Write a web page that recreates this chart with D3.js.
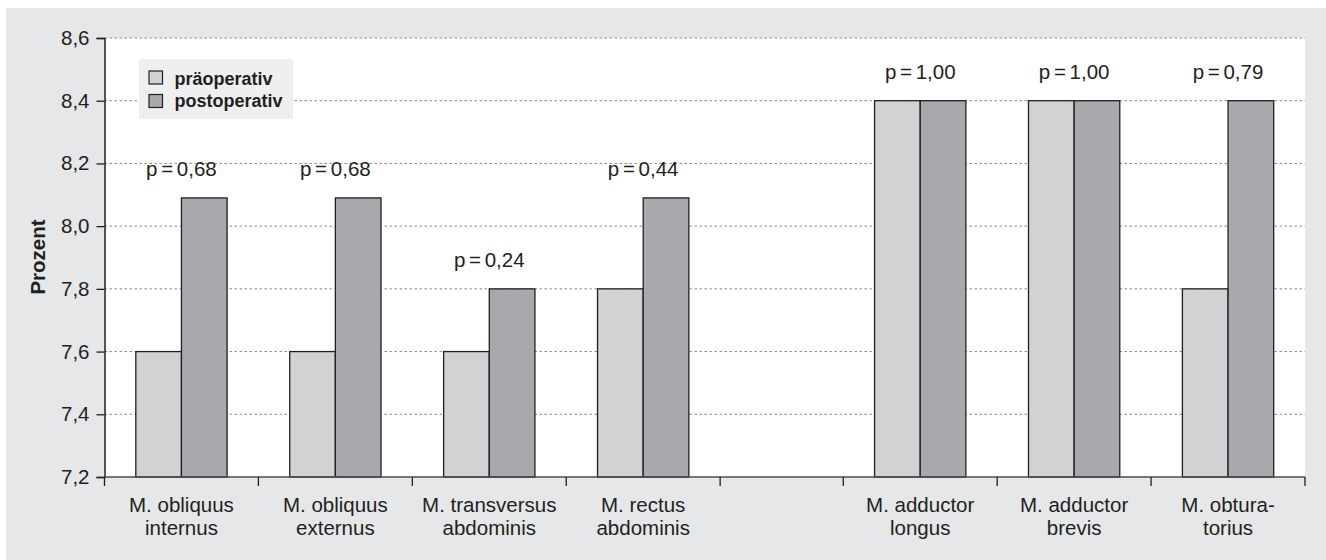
<!DOCTYPE html>
<html><head><meta charset="utf-8">
<script src="https://cdn.jsdelivr.net/npm/d3@7"></script>
<style>body{margin:0;background:#fff}svg{display:block}</style>
</head><body>
<svg id="c" width="1326" height="560"></svg>
<script>
// ---- data ----
const categories = [
  ["M. obliquus","internus"],
  ["M. obliquus","externus"],
  ["M. transversus","abdominis"],
  ["M. rectus","abdominis"],
  null,
  ["M. adductor","longus"],
  ["M. adductor","brevis"],
  ["M. obtura-","torius"]
];
const praeoperativ  = [7.6, 7.6, 7.6, 7.8, null, 8.4, 8.4, 7.8];
const postoperativ  = [8.09, 8.09, 7.8, 8.09, null, 8.4, 8.4, 8.4];
const pValues = ["p = 0,68","p = 0,68","p = 0,24","p = 0,44", null, "p = 1,00","p = 1,00","p = 0,79"];
const yTicks = [7.2, 7.4, 7.6, 7.8, 8.0, 8.2, 8.4, 8.6];
const seriesNames = ["präoperativ","postoperativ"];
const yTitle = "Prozent";

// ---- layout ----
const svg = d3.select("#c");
const L = 104.5, R = 1305, T = 38, B = 477;
const fillPre = "#d1d2d4", fillPost = "#a7a9ac", ink = "#231f20";
const font = "'Liberation Sans', Arial, sans-serif";
const fs = 20.5;

svg.append("rect").attr("x",6).attr("y",8).attr("width",1320).attr("height",552).attr("fill","#e6e7e8");
svg.append("rect").attr("x",L).attr("y",T).attr("width",R-L).attr("height",B-T).attr("fill","#fff");

// slot weights: empty slot is narrower
const weights = categories.map(c => c === null ? 0.8 : 1);
const cum = [0]; weights.forEach(w => cum.push(cum[cum.length-1] + w));
const xu = d3.scaleLinear().domain([0, cum[cum.length-1]]).range([L, R]);
const slotW = xu(1) - xu(0);

const y = d3.scaleLinear().domain([7.2, 8.6]).range([B, T]);
const sub = d3.scaleBand().domain([0,1]).range([0, slotW]).paddingInner(0).paddingOuter(0.686);

// grid
svg.append("g").selectAll("line").data(yTicks.filter(t => t > 7.2)).join("line")
  .attr("x1", L).attr("x2", R).attr("y1", d => y(d)).attr("y2", d => y(d))
  .attr("stroke", "#8c8c8c").attr("stroke-width", 1).attr("stroke-dasharray", "2.5,2.5");

// bars
const idx = d3.range(categories.length).filter(i => categories[i] !== null);
const gBars = svg.append("g");
idx.forEach(i => {
  const x0 = xu(cum[i]);
  [praeoperativ[i], postoperativ[i]].forEach((v, k) => {
    gBars.append("rect")
      .attr("x", x0 + sub(k)).attr("width", sub.bandwidth())
      .attr("y", y(v)).attr("height", y(7.2) - y(v))
      .attr("fill", k === 0 ? fillPre : fillPost)
      .attr("stroke", ink).attr("stroke-width", 1.3);
  });
  const top = Math.max(praeoperativ[i], postoperativ[i]);
  svg.append("text").attr("x", x0 + slotW/2).attr("y", y(top) - 22)
    .attr("text-anchor","middle").attr("font-family", font).attr("font-size", fs)
    .attr("word-spacing", "-2px").attr("fill", ink).text(pValues[i]);
});

// y axis
const yAxis = d3.axisLeft(y).tickValues(yTicks).tickSize(8).tickPadding(7)
  .tickFormat(d => d3.format(".1f")(d).replace(".", ","));
const gy = svg.append("g").attr("transform", `translate(${L},0)`).call(yAxis);
gy.select(".domain").attr("stroke", ink).attr("stroke-width", 1.5);
gy.selectAll(".tick line").attr("stroke", ink).attr("stroke-width", 1.3);
gy.selectAll(".tick text").attr("font-family", font).attr("font-size", fs).attr("fill", ink);

// x axis
const xTickPos = cum.map(c => xu(c));
const gx = svg.append("g");
gx.append("line").attr("x1", L).attr("x2", R).attr("y1", B).attr("y2", B)
  .attr("stroke", "#4d4d4f").attr("stroke-width", 1.5);
gx.selectAll("line.t").data(xTickPos).join("line").attr("class","t")
  .attr("x1", d => d).attr("x2", d => d).attr("y1", B).attr("y2", B + 9)
  .attr("stroke", ink).attr("stroke-width", 1.3);
idx.forEach(i => {
  const cx = xu(cum[i]) + slotW/2;
  const t = gx.append("text").attr("text-anchor","middle").attr("font-family", font)
    .attr("font-size", fs).attr("fill", ink);
  categories[i].forEach((line, j) => {
    t.append("tspan").attr("x", cx).attr("y", 512 + j*23).text(line);
  });
});

// y title
svg.append("text").attr("transform", "translate(45,257) rotate(-90)")
  .attr("text-anchor","middle").attr("font-family", font).attr("font-weight","bold")
  .attr("font-size", fs).attr("fill", ink).text(yTitle);

// legend
const lg = svg.append("g");
lg.append("rect").attr("x",139).attr("y",59).attr("width",154).attr("height",60).attr("fill","#efeff0");
seriesNames.forEach((n, k) => {
  lg.append("rect").attr("x",149).attr("y",71 + k*23.5).attr("width",13.5).attr("height",13)
    .attr("fill", k === 0 ? fillPre : fillPost).attr("stroke", ink).attr("stroke-width", 1.2);
  lg.append("text").attr("x",174.5).attr("y",84.5 + k*22).attr("font-family", font)
    .attr("font-weight","bold").attr("font-size",18).attr("fill", ink).text(n);
});
</script>
</body></html>
